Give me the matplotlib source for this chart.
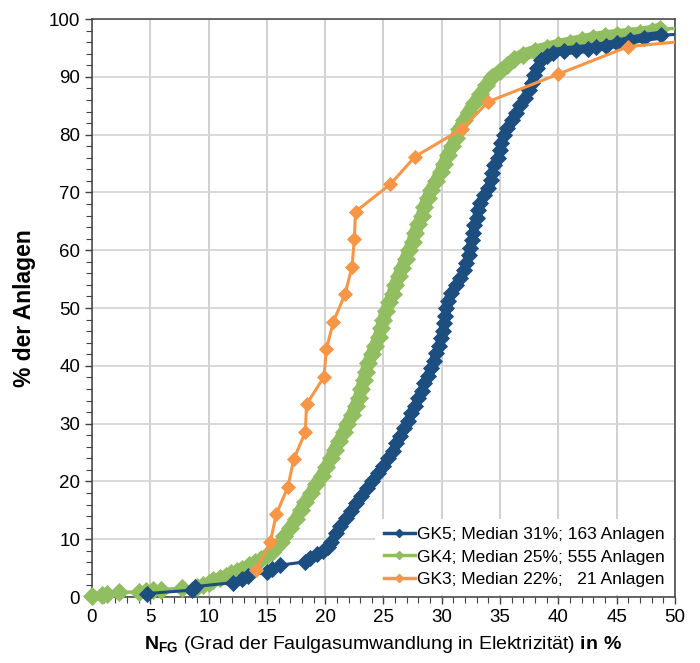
import numpy as np
import matplotlib
matplotlib.use("Agg")
import matplotlib.pyplot as plt
from matplotlib.lines import Line2D
from matplotlib.ticker import MultipleLocator

plt.rcParams['font.family'] = ['Liberation Sans', 'DejaVu Sans']
plt.rcParams['mathtext.fontset'] = 'custom'
plt.rcParams['mathtext.rm'] = 'Liberation Sans'
plt.rcParams['mathtext.bf'] = 'Liberation Sans:bold'

# GK5 (163 Anlagen)
gk5_x = [4.7, 8.6, 8.8, 12.1, 12.9, 13.4, 15.0, 15.4, 16.1, 18.3, 18.7, 19.3, 19.8, 20.2,
         20.5, 20.9,
         21.3, 21.8, 22.2, 22.6, 23.1, 23.6, 24.0, 24.5, 25.0, 25.4, 25.8, 26.1, 26.4, 26.8,
         27.1, 27.4, 27.7, 28.0, 28.3, 28.5, 28.8, 29.1, 29.3, 29.5, 29.8, 29.9, 30.1, 30.2,
         30.3, 30.4, 30.5, 30.8, 31.2, 31.6, 31.9, 32.1, 32.3, 32.4, 32.6, 32.7, 32.8, 33.0,
         33.1, 33.3, 33.6, 34.0, 34.2, 34.3, 34.5, 34.8, 35.0, 35.1, 35.3, 35.6, 36.0, 36.4,
         36.7, 37.1, 37.5, 37.7, 37.9, 38.2, 38.5,
         39.0, 39.5, 40.5, 41.5, 42.5, 43.2, 44.1, 45.0, 46.1, 47.3, 48.8, 75.0]
gk5_y = [0.6, 1.2, 1.8, 2.5, 3.1, 3.7, 4.3, 4.9, 5.5, 6.1, 6.7, 7.4, 8.0, 8.6,
         9.5, 11.0,
         12.3, 13.6, 14.9, 16.2, 17.5, 18.8, 20.1, 21.4, 22.7, 24.0, 25.3, 26.6, 27.9, 29.2,
         30.5, 31.8, 33.1, 34.4, 35.7, 37.0, 38.3, 39.6, 40.9, 42.2, 43.5, 44.8, 46.1, 47.4,
         48.7, 50.0, 51.3, 52.6, 53.9, 55.2, 56.5, 57.8, 59.1, 60.4, 61.7, 63.0, 64.3, 65.6,
         66.9, 68.2, 69.5, 70.8, 72.1, 73.4, 74.7, 76.0, 77.3, 78.6, 79.9, 81.2, 82.5, 83.8,
         85.1, 86.4, 87.7, 89.0, 90.3, 91.6, 92.9,
         93.6, 94.2, 94.5, 94.7, 94.9, 95.1, 95.4, 95.8, 96.3, 96.8, 97.2, 100.0]

# GK4 (555 Anlagen)
gk4_x = [0.0, 0.9, 1.3, 2.3, 4.0, 4.6, 5.2, 5.9, 7.7, 9.0, 9.5, 10.0, 10.4, 11.0, 11.5,
         11.9, 12.4, 12.9, 13.5, 14.0, 14.5, 15.0, 15.4, 15.8, 16.2,
         16.5, 17.0, 17.5, 17.9, 18.3, 18.8, 19.2, 19.7, 20.1, 20.5, 20.8, 21.2, 21.6, 21.9,
         22.3, 22.6, 22.9, 23.1, 23.3, 23.5, 23.7, 24.0, 24.3, 24.6, 24.8, 25.0, 25.2, 25.5,
         25.8, 26.0, 26.3, 26.6, 26.9, 27.2, 27.5, 27.7, 28.0, 28.3, 28.5, 28.8, 29.1, 29.5,
         29.9, 30.2, 30.5, 30.9, 31.2, 31.5, 31.9, 32.3, 32.8, 33.3, 33.8, 34.3,
         35.0, 35.6, 36.2, 37.0, 38.0, 39.0, 40.0, 41.0, 42.0, 43.0, 44.0, 45.0, 46.0, 47.0,
         48.0, 48.7, 90.0]
gk4_y = [0.2, 0.4, 0.6, 0.8, 0.9, 1.1, 1.2, 1.3, 1.5, 1.7, 2.0, 2.5, 2.9, 3.3, 3.7,
         4.1, 4.5, 4.9, 5.5, 6.0, 6.6, 7.2, 7.8, 8.6, 9.5,
         10.5, 12.0, 13.5, 15.0, 16.5, 18.0, 19.5, 21.0, 22.5, 24.0, 25.5, 27.0, 28.5, 30.0,
         31.5, 33.0, 34.5, 36.0, 37.5, 39.0, 40.5, 42.0, 43.5, 45.0, 46.5, 48.0, 49.5, 51.0,
         52.5, 54.0, 55.5, 57.0, 58.5, 60.0, 61.5, 63.0, 64.5, 66.0, 67.5, 69.0, 70.5, 72.0,
         73.5, 75.0, 76.5, 78.0, 79.5, 81.0, 82.5, 84.0, 85.5, 87.0, 88.5, 90.0,
         91.0, 92.0, 93.0, 93.8, 94.5, 95.0, 95.5, 95.9, 96.3, 96.7, 97.0, 97.2, 97.4, 97.6,
         97.9, 98.3, 100.0]

# GK3 (21 Anlagen)
gk3_x = [14.1, 15.3, 15.8, 16.8, 17.3, 18.3, 18.4, 19.9, 20.1, 20.7, 21.7, 22.3, 22.5,
         22.6, 25.6, 27.7, 31.7, 34.0, 40.0, 46.0, 71.0]
gk3_y = [4.76, 9.52, 14.29, 19.05, 23.81, 28.57, 33.33, 38.10, 42.86, 47.62, 52.38, 57.14,
         61.90, 66.67, 71.43, 76.19, 80.95, 85.71, 90.48, 95.24, 100.0]

labels = ["GK5; Median 31%; 163 Anlagen",
          "GK4; Median 25%; 555 Anlagen",
          "GK3; Median 22%;   21 Anlagen"]
colors = ["#1C4E80", "#92BE62", "#F79646"]

fig = plt.figure(figsize=(7.0, 6.63), dpi=100)
ax = fig.add_axes([0.1314, 0.0995, 0.8329, 0.8718])

# (x, y, Farbe, zorder, Linienbreite, Markergroesse, Bandbreite im dichten Teil)
series = [(gk4_x, gk4_y, colors[1], 3, 2.5, 9.3, 9.0),
          (gk5_x, gk5_y, colors[0], 4, 2.2, 8.4, 6.5),
          (gk3_x, gk3_y, colors[2], 5, 2.2, 7.0, 0)]
for xs, ys, c, z, lw, ms, band in series:
    xs = np.array(xs)
    ys = np.array(ys)
    ax.plot(xs, ys, '-', color=c, lw=lw, zorder=z)
    if band:
        # dichte Punktwolke wirkt im Original wie ein breites Band
        d = (ys >= 9) & (xs <= 49)
        ax.plot(xs[d], ys[d], '-', color=c, lw=band, zorder=z, solid_capstyle='round')
    m = xs <= 50
    ax.plot(xs[m], ys[m], 'D', ls='none', color=c, ms=ms, mew=0.6, mec=c,
            zorder=z, clip_on=False)

ax.set_xlim(0, 50)
ax.set_ylim(0, 100)
ax.xaxis.set_major_locator(MultipleLocator(5))
ax.xaxis.set_minor_locator(MultipleLocator(1))
ax.yaxis.set_major_locator(MultipleLocator(10))
ax.yaxis.set_minor_locator(MultipleLocator(2))
ax.tick_params(which='major', direction='out', length=5, width=1, colors='#404040',
               labelcolor='black', labelsize=13.5)
ax.tick_params(which='minor', direction='out', length=4, width=0.8, colors='#404040')
ax.grid(True, which='major', axis='x', color='#C4C4C4', lw=1.1)
ax.grid(True, which='major', axis='y', color='#D6D6D6', lw=1.3)
ax.set_axisbelow(True)
for s in ax.spines.values():
    s.set_color('#404040')
    s.set_linewidth(1.1)

ax.set_ylabel("% der Anlagen", fontsize=16.5, fontweight='bold', labelpad=9)
ax.set_xlabel(r"$\mathbf{N}_{\mathbf{FG}}$ (Grad der Faulgasumwandlung in Elektrizität) $\mathbf{in\ \%}$",
              fontsize=14, labelpad=6)

handles = [Line2D([], [], color=c, lw=2.5, marker='D', ms=4.5) for c in colors]
leg = ax.legend(handles, labels, loc='lower right', fontsize=12.5, frameon=True,
                borderaxespad=0.1, handlelength=1.8, handletextpad=0.1,
                labelspacing=0.4, borderpad=0.5, fancybox=False)
leg.get_frame().set_edgecolor('none')
leg.get_frame().set_facecolor('white')
leg.get_frame().set_alpha(1)
leg.set_zorder(10)

fig.savefig("out.png", dpi=100)
